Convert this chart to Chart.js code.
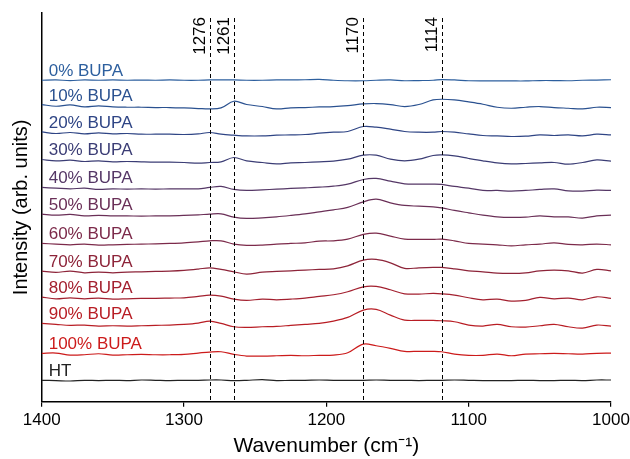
<!DOCTYPE html>
<html>
<head>
<meta charset="utf-8">
<script src="https://cdn.jsdelivr.net/npm/chart.js@4/dist/chart.umd.min.js"></script>
<style>
  html, body { margin: 0; padding: 0; background: #fff; }
  #wrap { width: 630px; height: 459px; }
</style>
</head>
<body>
<div id="wrap"><canvas id="ftir-chart" width="630" height="459"></canvas></div>
<script>
// wavenumber grid (cm-1)
const wavenumbers = [1400, 1390, 1380, 1370, 1360, 1350, 1340, 1330, 1320, 1310, 1300, 1290, 1282, 1274, 1265, 1256,
  1245, 1235, 1225, 1215, 1205, 1195, 1185, 1174, 1165, 1155, 1145, 1135, 1125, 1119, 1110, 1100,
  1090, 1080, 1070, 1060, 1050, 1040, 1030, 1020, 1010, 1000];

// spectra (arb. units, relative to each trace's own offset)
const bupa0 = [0, 0.3, -0.3, 0.3, 0, 0.3, 0, 0.2, 0, 0.3, 0, 0, 0.3, 0.3, 0.3, 0,
  0, 0.3, 0.3, 0.5, 0.8, 0, -0.5, -0.5, 0, 0.3, -0.5, -0.3, 0, 0.7, 0.3, -0.5,
  -0.7, -0.7, -0.7, -0.7, -0.3, -0.3, -0.5, 0, 0.2, 0.5];
const bupa10 = [0, -1.7, -0.4, -2.4, -1.4, -2.4, -2.7, -2.7, -3, -3, -3.4, -4, -4.4, -3.4, 3.3, 0,
  -2, -4.4, -3.4, -3, -2.4, -2, -1, 0.6, 1, 0, -2, 0, 4.6, 5.3, 4.6, 2.6,
  0.3, -2.7, -3.7, -2.7, -2, -3, -3.7, -4.4, -2.7, -3];
const bupa20 = [0, -1.6, -0.6, -2, -1, -2, -1.6, -2.3, -2.3, -2.3, -2.6, -2, -0.6, -2.3, -3.3, -4,
  -4, -3.3, -3, -2.6, -1.3, -0.3, 0.4, 5.4, 4.7, 2.7, 0.4, -0.3, -0.3, 0.4, -0.3, -2,
  -3.6, -4, -4.6, -4.3, -3, -3.6, -3, -4, -2.3, -3];
const bupa30 = [0, -1.4, -0.7, -2, -1.4, -2.4, -2, -2.4, -2.7, -2.7, -3, -3.7, -3, -2.4, 2, -1.4,
  -3, -4.4, -3.4, -3, -2.4, -1.7, 0.3, 4.3, 4.3, 0.3, -1.4, 0.3, 4, 4.6, 3.6, 1,
  -1.4, -3.4, -4.4, -4, -3.4, -3, -4.7, -3, -0.4, -1.7];
const bupa40 = [0, -0.7, -1.4, -0.7, -2, -1.4, -1.7, -1.4, -1.7, -1.4, -1.4, -1.4, 0, 1, -2, -3,
  -2.4, -1.7, -1, -0.4, 0.3, 1.3, 3.3, 8, 9, 6.3, 3.6, 3.3, 3.3, 3, 1, -0.7,
  -3, -3, -3.7, -3, -2, -1.4, -3.4, -3.7, -2.7, -3];
const bupa50 = [0, -1, -0.3, -1.7, -1.3, -1.7, -1.7, -2, -1.7, -1.7, -1.3, -0.7, 0, 0.3, -3, -4.3,
  -3.7, -2.7, -1.3, 0.3, 2.3, 4.3, 6.7, 12.3, 15, 11.3, 8.7, 8, 7.3, 6.3, 3.7, 1.3,
  -1, -2.7, -3.3, -3, -1.7, -2.7, -2.7, -4, -1.7, -1];
const bupa60 = [0, -0.7, -1.4, -0.7, -1.7, -1.4, -1, -0.7, -0.4, 0, 0.6, 1.6, 2.6, 2.6, -0.7, -2,
  -1.7, -0.7, 0, 0.6, 2.3, 2.6, 4.3, 9, 10.3, 7.3, 4.3, 4, 4, 4.3, 2.6, 0,
  -0.7, -1.4, -2.4, -1.4, -0.7, 0.6, -1, -1.4, -0.7, -1.4];
const bupa70 = [0, -1.3, 0, -1.7, -1, -1.7, -1, -0.7, -0.3, 0, 0.7, 2, 3.3, 1.7, -0.7, -3,
  -1, -0.3, 0.3, 1, 1.7, 2.3, 5.3, 11, 11.7, 8.3, 2.7, 3.3, 3.7, 3.7, 2.3, 0.3,
  -0.7, -2, -2.3, -1.7, 0.3, 1, 0.3, -2, 1.7, 0.3];
const bupa80 = [0, -1.7, -0.7, -1.7, -1, -2, -1.7, -1.3, -1.3, -1, -0.7, 0.7, 2, 1, -2, -3.3,
  -2, -2.7, -2, -1, 0.7, 2.3, 5.3, 10.3, 10.7, 7.3, 3.3, 3, 3.7, 3.3, 2, -0.7,
  -2.7, -2, -4, -3.3, -0.3, -1.7, -1, -2.7, 0.3, -1.3];
const bupa90 = [0, -1, -2, -1.7, -2.7, -2.4, -2.7, -2.4, -2, -1.7, -1, 0.3, 2.3, 0, -3.4, -4,
  -3.4, -3, -2, -1, 0, 2.3, 6, 13.3, 14, 8.3, 3.3, 3, 3, 2.6, 1.6, -1.7,
  -2.7, -1, -3.4, -3.7, -2.4, -1, -3.4, -4.7, -1.7, -2.7];
const bupa100 = [0, 0.3, -1.7, -1.4, -0.4, -1.7, -1.4, -1, -1.4, -1.4, -1, 0.3, 1.3, 1.6, -1, -2.7,
  -2.7, -2.4, -2, -2.4, -2, -1.7, 0.6, 9.3, 7.6, 5, 2, 2, 2, 1.6, -0.7, -2,
  -2, -0.7, -2.4, -0.7, -0.4, 0, -0.4, -0.7, 0, 0.3];
const ht = [0, -0.3, -0.7, 0, -0.3, 0, -0.3, 0.3, 0, -0.3, 0, 0, 0.3, 0.3, -0.3, 0,
  0.7, -0.3, 0, 0, 0.3, 0, 0, 0, 0.3, 0, 0, -0.3, 0, 0, 0.3, 0,
  -0.3, -0.3, -0.3, 0, -0.3, -0.3, 0, -0.3, 0.3, 0.3];

const seriesNames = ["0% BUPA", "10% BUPA", "20% BUPA", "30% BUPA", "40% BUPA", "50% BUPA",
  "60% BUPA", "70% BUPA", "80% BUPA", "90% BUPA", "100% BUPA", "HT"];
const seriesValues = [bupa0, bupa10, bupa20, bupa30, bupa40, bupa50, bupa60, bupa70, bupa80, bupa90, bupa100, ht];
// vertical stacking offsets
const offsets = [321.7, 297.4, 270, 242.4, 214.4, 187.7, 158.4, 130.7, 104.7, 78.4, 48.4, 21.4];

// marked bands: label and where the dashed line sits
const peakLabels = ["1276", "1261", "1170", "1114"];
const peakPositions = [1282, 1265, 1174, 1119];

const xTicks = [1400, 1300, 1200, 1100, 1000];

const colors = ["#2d5f9e", "#2a5190", "#2f4585", "#3b3d75", "#553766", "#6a2f57",
  "#7c2a4a", "#8d2439", "#a3202f", "#b81d24", "#cc1b1b", "#222222"];

const FONT = "'Liberation Sans', Arial, sans-serif";

const datasets = seriesValues.map((vals, i) => ({
  label: seriesNames[i],
  data: vals.map((v, j) => ({ x: wavenumbers[j], y: offsets[i] + v })),
  borderColor: colors[i],
  borderWidth: 1.2,
  pointRadius: 0,
  tension: 0.35,
  fill: false
}));

// trace names + dashed band markers
const annotate = {
  id: "annotate",
  afterDatasetsDraw(chart) {
    const ctx = chart.ctx;
    const xs = chart.scales.x;
    const ys = chart.scales.y;
    const area = chart.chartArea;
    ctx.save();

    ctx.font = "17px " + FONT;
    ctx.textAlign = "left";
    ctx.textBaseline = "alphabetic";
    seriesNames.forEach((name, i) => {
      ctx.fillStyle = colors[i];
      ctx.fillText(name, area.left + 7, ys.getPixelForValue(offsets[i] + 4));
    });

    ctx.strokeStyle = "#000";
    ctx.lineWidth = 1;
    ctx.setLineDash([4, 3]);
    peakPositions.forEach((p, i) => {
      const x = Math.round(xs.getPixelForValue(p)) + 0.5;
      ctx.beginPath();
      ctx.moveTo(x, area.top + 5);
      ctx.lineTo(x, area.bottom);
      ctx.stroke();

      ctx.save();
      ctx.translate(x - 10, area.top + 4);
      ctx.rotate(-Math.PI / 2);
      ctx.fillStyle = "#000";
      ctx.textAlign = "right";
      ctx.textBaseline = "middle";
      ctx.fillText(peakLabels[i], 0, 0);
      ctx.restore();
    });
    ctx.restore();
  }
};

new Chart("ftir-chart", {
  type: "line",
  data: { datasets: datasets },
  plugins: [annotate],
  options: {
    responsive: false,
    animation: false,
    layout: { padding: { top: 13, right: 19, left: 0, bottom: 0 } },
    plugins: {
      legend: { display: false },
      tooltip: { enabled: false }
    },
    scales: {
      x: {
        type: "linear",
        reverse: true,
        min: 1000,
        max: 1400,
        afterBuildTicks: (scale) => { scale.ticks = xTicks.map(v => ({ value: v })); },
        afterFit: (scale) => {
          scale.height = 57.3;
          scale.paddingLeft = 0;
          scale.paddingRight = 0;
        },
        grid: { display: true, drawOnChartArea: false, drawTicks: true, tickLength: 5, color: "#000", lineWidth: 1.2 },
        border: { display: true, color: "#000", width: 1.5 },
        ticks: {
          color: "#000",
          font: { family: FONT, size: 17 },
          padding: 3,
          maxRotation: 0,
          callback: (v) => String(v)
        },
        title: {
          display: true,
          text: "Wavenumber (cm\u207B\u00B9)",
          color: "#000",
          font: { family: FONT, size: 21 },
          padding: 0
        }
      },
      y: {
        min: 0,
        max: 389,
        afterFit: (scale) => { scale.width = 41.7; },
        grid: { display: false },
        border: { display: true, color: "#000", width: 1.5 },
        ticks: { display: false },
        title: {
          display: true,
          text: "Intensity (arb. units)",
          color: "#000",
          font: { family: FONT, size: 20 },
          padding: 9
        }
      }
    }
  }
});
</script>
</body>
</html>
